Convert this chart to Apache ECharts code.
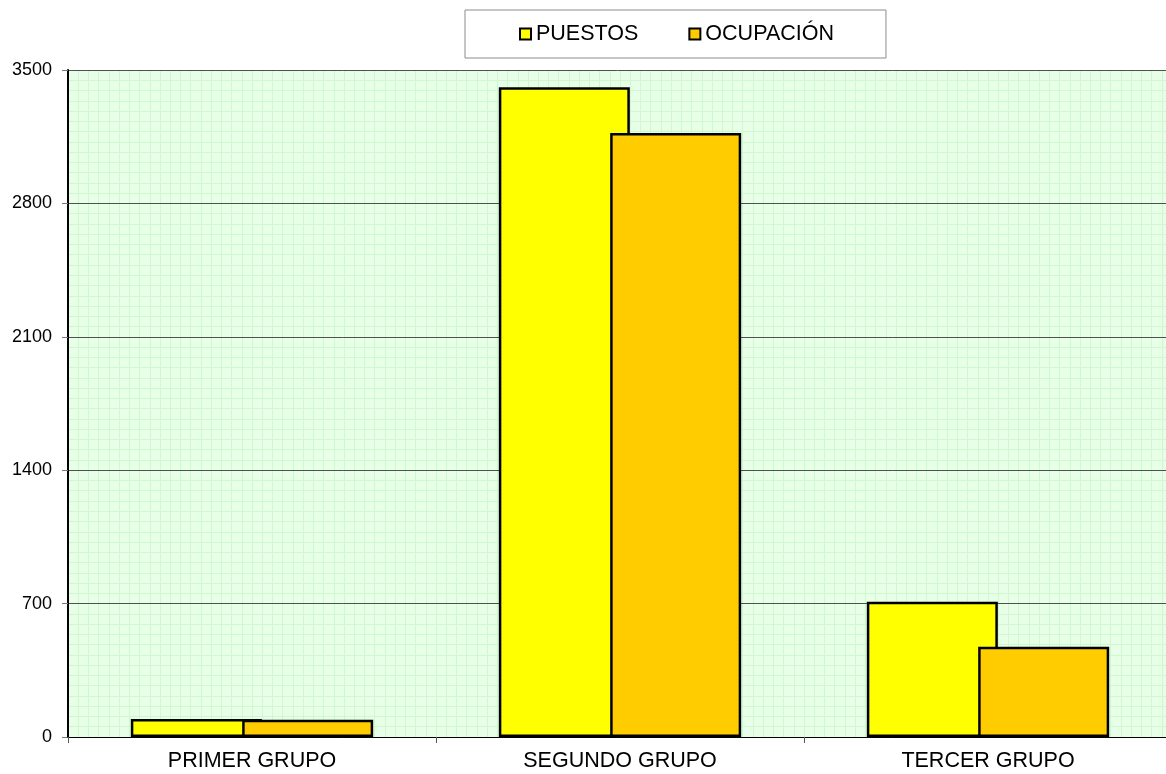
<!DOCTYPE html>
<html>
<head>
<meta charset="utf-8">
<script src="https://cdn.jsdelivr.net/npm/echarts@6/dist/echarts.min.js"></script>
<style>
html,body{margin:0;padding:0;background:#fff;}
#c{width:1166px;height:774px;}
</style>
</head>
<body>
<div id="c"></div>
<script>
const categories = ['PRIMER GRUPO', 'SEGUNDO GRUPO', 'TERCER GRUPO'];
const seriesNames = ['PUESTOS', 'OCUPACIÓN'];
const puestos = [95, 3410, 710];
const ocupacion = [90, 3170, 474];
const yTicks = [0, 700, 1400, 2100, 2800, 3500];

const chart = echarts.init(document.getElementById('c'), null, {renderer: 'canvas'});
const font = 'Liberation Sans, Arial, sans-serif';
const option = {
  animation: false,
  backgroundColor: '#ffffff',
  legend: {
    data: seriesNames,
    left: 465, top: 10,
    padding: [13, 52, 13, 54],
    itemGap: 50,
    itemWidth: 11, itemHeight: 11,
    icon: 'rect',
    backgroundColor: '#ffffff',
    borderColor: '#8c8c8c', borderWidth: 1,
    itemStyle: {borderColor: '#000', borderWidth: 2},
    textStyle: {fontFamily: font, fontSize: 21.5, color: '#000'}
  },
  grid: {
    left: 68, top: 70, bottom: 37, width: 1104,
    outerBoundsMode: 'none',
    show: true, backgroundColor: '#e6ffe6', borderWidth: 0,
    containLabel: false
  },
  xAxis: [{
    type: 'category',
    data: categories,
    z: 2,
    axisLine: {lineStyle: {color: '#000', width: 1}},
    axisTick: {show: true, length: 6, lineStyle: {color: '#555'}},
    axisLabel: {fontFamily: font, fontSize: 21.5, color: '#000', margin: 13},
    splitLine: {show: false}
  }, {
    type: 'value',
    position: 'top',
    min: 0, max: 108, interval: 1,
    show: true,
    z: 0,
    axisLine: {show: false}, axisTick: {show: false}, axisLabel: {show: false},
    splitLine: {show: true, lineStyle: {color: '#d0f8d0', width: 1}}
  }],
  yAxis: {
    type: 'value',
    min: 0, max: 3500, interval: 700,
    z: 1,
    axisLine: {show: true, lineStyle: {color: '#000', width: 2}},
    axisTick: {show: true, length: 6, lineStyle: {color: '#777'}},
    axisLabel: {fontFamily: font, fontSize: 18, color: '#000', margin: 16,
      formatter: v => yTicks.includes(v) ? String(v) : ''},
    splitLine: {show: true, lineStyle: {color: '#505050', width: 1}},
    minorTick: {show: false, splitNumber: 13},
    minorSplitLine: {show: true, lineStyle: {color: '#d0f8d0', width: 1}}
  },
  series: [{
    name: seriesNames[0], type: 'bar', data: puestos,
    xAxisIndex: 0,
    barWidth: 131, barGap: '-15%',
    z: 3,
    itemStyle: {color: '#ffff00', borderColor: '#000', borderWidth: 2.5}
  }, {
    name: seriesNames[1], type: 'bar', data: ocupacion,
    xAxisIndex: 0,
    barWidth: 131, barGap: '-15%',
    z: 3,
    itemStyle: {color: '#ffcc00', borderColor: '#000', borderWidth: 2.5}
  }]
};
chart.setOption(option);
</script>
</body>
</html>
